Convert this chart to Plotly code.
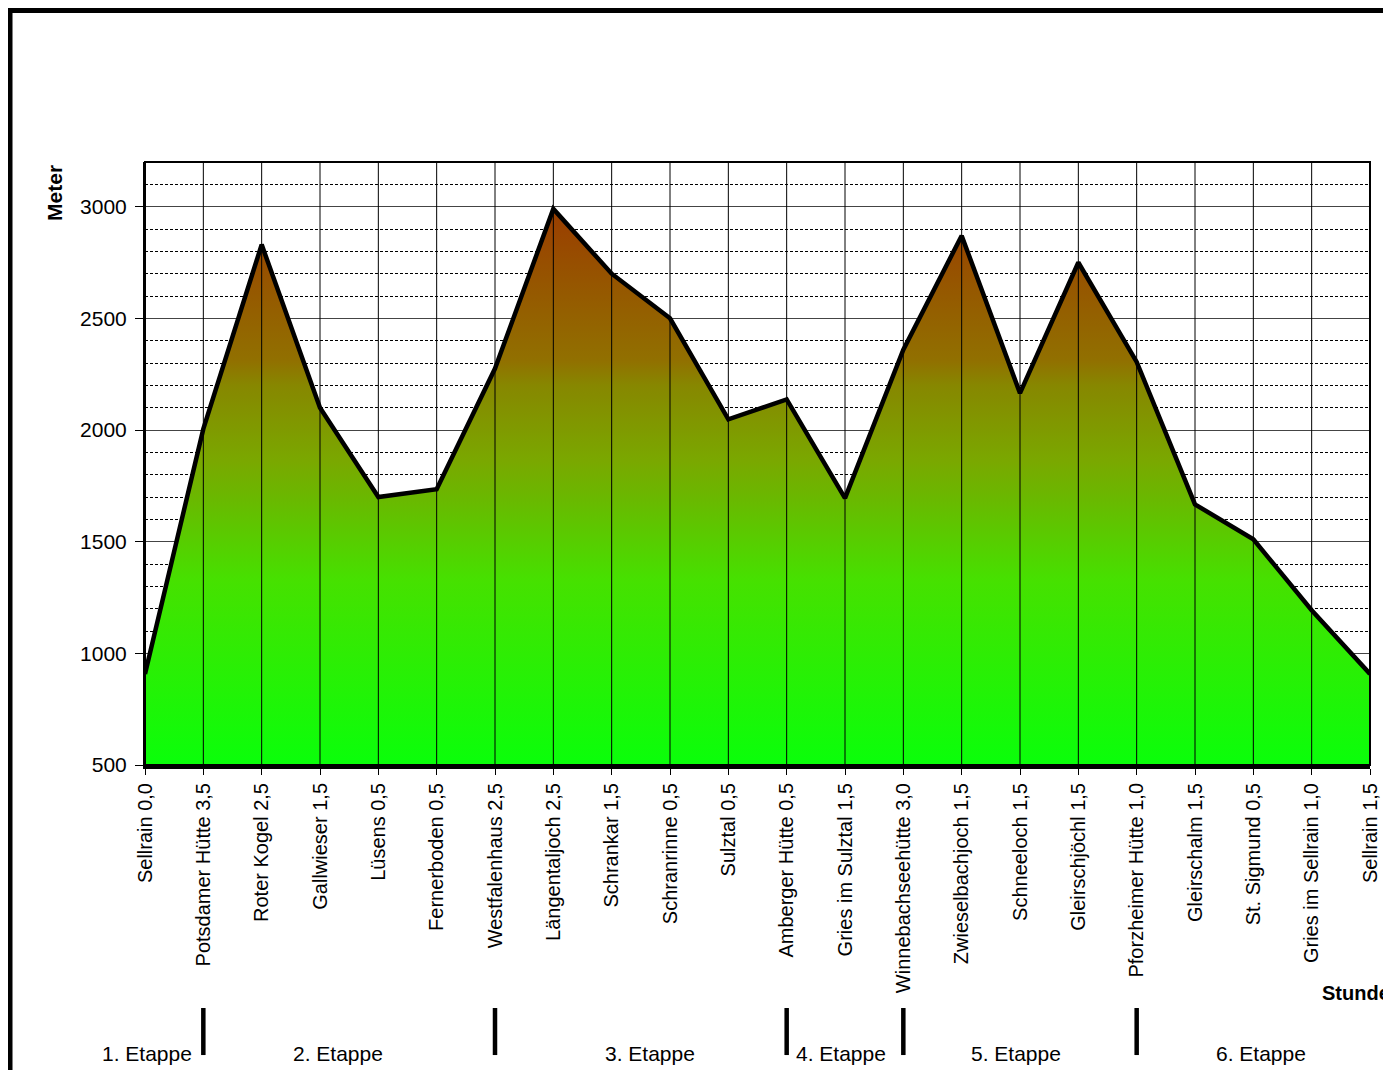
import plotly.graph_objects as go

# ---------------- data ----------------
CATEGORIES = [
    "Sellrain 0,0", "Potsdamer Hütte 3,5", "Roter Kogel 2,5", "Gallwieser 1,5",
    "Lüsens 0,5", "Fernerboden 0,5", "Westfalenhaus 2,5", "Längentaljoch 2,5",
    "Schrankar 1,5", "Schranrinne 0,5", "Sulztal 0,5", "Amberger Hütte 0,5",
    "Gries im Sulztal 1,5", "Winnebachseehütte 3,0", "Zwieselbachjoch 1,5",
    "Schneeloch 1,5", "Gleirschjöchl 1,5", "Pforzheimer Hütte 1,0",
    "Gleirschalm 1,5", "St. Sigmund 0,5", "Gries im Sellrain 1,0", "Sellrain 1,5",
]
ALTITUDE_M = [
    908, 2005, 2830, 2100, 1700, 1735, 2275, 2990, 2700, 2500, 2048, 2137,
    1695, 2360, 2870, 2165, 2750, 2305, 1667, 1511, 1193, 908,
]
STAGE_NAMES = ["1. Etappe", "2. Etappe", "3. Etappe", "4. Etappe", "5. Etappe", "6. Etappe"]
STAGE_BREAKS = ["Potsdamer Hütte 3,5", "Westfalenhaus 2,5", "Amberger Hütte 0,5",
                "Winnebachseehütte 3,0", "Pforzheimer Hütte 1,0"]
Y_TICKS = [500, 1000, 1500, 2000, 2500, 3000]

# ---------------- layout constants ----------------
FONT = "Arial, 'Liberation Sans', sans-serif"
STAGE_LABEL_X = [0.03, 3.31, 8.66, 11.93, 14.93, 19.13]  # label positions (category index units)

fig = go.Figure()

fig.add_trace(go.Scatter(
    x=CATEGORIES, y=ALTITUDE_M,
    mode="lines",
    line=dict(color="black", width=4.5),
    fill="tozeroy",
    fillgradient=dict(
        type="vertical",
        start=500, stop=3000,
        colorscale=[
            [0.0, "rgb(10,255,10)"],
            [0.33, "rgb(70,225,0)"],
            [0.474, "rgb(105,185,0)"],
            [0.545, "rgb(122,168,0)"],
            [0.68, "rgb(135,135,0)"],
            [0.724, "rgb(145,112,0)"],
            [0.957, "rgb(153,68,0)"],
            [1.0, "rgb(153,60,0)"],
        ],
    ),
    hoverinfo="x+y",
    showlegend=False,
))

shapes = []
# vertical category lines drawn over the fill
for c in CATEGORIES:
    shapes.append(dict(type="line", xref="x", yref="paper", x0=c, x1=c, y0=0, y1=1,
                       line=dict(color="black", width=1), layer="above"))
# plot border
shapes.append(dict(type="rect", xref="paper", yref="paper", x0=0, x1=1, y0=0, y1=1,
                   line=dict(color="black", width=2), layer="above"))
# stage separators
for c in STAGE_BREAKS:
    shapes.append(dict(type="line", xref="x", yref="paper", x0=c, x1=c,
                       y0=-0.481, y1=-0.403, line=dict(color="black", width=4.5)))
# outer chart frame (extends beyond the visible window)
shapes.append(dict(type="rect", xref="paper", yref="paper",
                   x0=-0.1102, x1=1.2, y0=-0.7, y1=1.2512,
                   line=dict(color="black", width=5)))

annotations = []
for name, xpos in zip(STAGE_NAMES, STAGE_LABEL_X):
    annotations.append(dict(text=name, xref="x", yref="paper", x=xpos, y=-0.479,
                            showarrow=False, xanchor="center", yanchor="middle",
                            font=dict(family=FONT, size=21, color="black")))
annotations.append(dict(text="<b>Meter</b>", xref="paper", yref="paper",
                        x=-0.0735, y=0.9486, textangle=-90, showarrow=False,
                        xanchor="center", yanchor="middle",
                        font=dict(family=FONT, size=21, color="black")))
annotations.append(dict(text="<b>Stunden</b>", xref="paper", yref="paper",
                        x=0.959, y=-0.378, showarrow=False,
                        xanchor="left", yanchor="middle",
                        font=dict(family=FONT, size=20, color="black")))

fig.update_layout(
    width=1391, height=1070,
    margin=dict(l=137, r=29, t=154, b=313),
    paper_bgcolor="white", plot_bgcolor="white",
    font=dict(family=FONT, size=20, color="black"),
    shapes=shapes, annotations=annotations,
    showlegend=False,
    xaxis=dict(
        type="category",
        categoryorder="array", categoryarray=CATEGORIES,
        range=[0, len(CATEGORIES) - 1],
        showgrid=False, zeroline=False,
        showline=True, linecolor="black", linewidth=4,
        ticks="outside", ticklen=6, tickcolor="black", tickwidth=1,
        tickangle=-90,
        tickfont=dict(family=FONT, size=20, color="black"),
    ),
    yaxis=dict(
        range=[500, 3200],
        tickvals=Y_TICKS,
        showgrid=True, gridcolor="#444444", gridwidth=1,
        zeroline=False,
        showline=True, linecolor="black", linewidth=2,
        ticks="outside", ticklen=8, tickcolor="black", tickwidth=1,
        tickfont=dict(family=FONT, size=21, color="black"),
        ticklabelstandoff=4,
        minor=dict(dtick=100, showgrid=True, gridcolor="black", gridwidth=1,
                   griddash="3px,2px", ticks=""),
    ),
)

fig.write_html("out.html")
